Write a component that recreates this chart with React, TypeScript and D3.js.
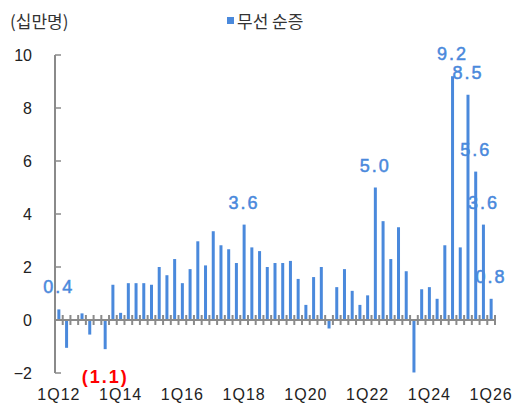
import React from "react";
import * as d3 from "d3";

const categories: string[] = [];
for (let y = 12; y <= 25; y++) for (let q = 1; q <= 4; q++) categories.push(`${q}Q${y}`);
categories.push("1Q26");

const values: number[] = [
  0.4, -1.05, 0, 0.25,
  -0.55, 0, -1.1, 1.33,
  0.27, 1.39, 1.39, 1.39,
  1.33, 2.0, 1.69, 2.3,
  1.39, 1.92, 2.97, 2.06,
  3.35, 2.82, 2.67, 2.15,
  3.6, 2.74, 2.6, 2.0,
  2.15, 2.15, 2.23, 1.55,
  0.57, 1.62, 2.0, -0.32,
  1.24, 1.92, 1.1, 0.57,
  0.93, 5.0, 3.73, 2.3,
  3.5, 1.84, -1.98, 1.16,
  1.24, 0.8, 2.82, 9.2,
  2.74, 8.5, 5.6, 3.6,
  0.8,
];

const xTickLabels = ["1Q12", "1Q14", "1Q16", "1Q18", "1Q20", "1Q22", "1Q24", "1Q26"];
const yTicks = [-2, 0, 2, 4, 6, 8, 10];
const yTickLabels = ["\u22122", "0", "2", "4", "6", "8", "10"];

const labelCats = ["1Q12", "3Q13", "1Q18", "2Q22", "4Q24", "2Q25", "3Q25", "4Q25", "1Q26"];
const labelTexts = ["0.4", "(1.1)", "3.6", "5.0", "9.2", "8.5", "5.6", "3.6", "0.8"];

const seriesName = "무선 순증";
const unitLabel = "(십만명)";

const BLUE = "#4a89dc";
const RED = "#ff0000";
const AXIS = "#8a8a8a";
const FONT = "'Liberation Sans', Arial, 'Noto Sans CJK KR', sans-serif";

export default function App() {
  const W = 516, H = 407;
  const x = d3.scaleBand<string>().domain(categories).range([55, 495]).paddingInner(0).paddingOuter(0);
  const y = d3.scaleLinear().domain([-2, 10]).range([373, 55]);
  const y0 = y(0);
  const step = x.step();
  const barW = 3;

  return (
    <svg width={W} height={H} style={{ position: "absolute", left: 0, top: 0, background: "#fff" }}>
      <text x={10} y={28} fontSize={17} fill="#333" fontFamily="'Noto Sans CJK KR', sans-serif">{unitLabel}</text>
      <rect x={227} y={17} width={7} height={7} fill={BLUE} />
      <text x={237} y={28} fontSize={17} fill="#333" fontFamily="'Noto Sans CJK KR', sans-serif">{seriesName}</text>

      {values.map((v, i) => {
        const cx = (x(categories[i]) as number) + step / 2;
        const top = Math.min(y(v), y0);
        const h = Math.abs(y(v) - y0);
        return <rect key={i} x={cx - barW / 2} y={top} width={barW} height={h} fill={BLUE} />;
      })}

      {/* y axis */}
      <line x1={55} x2={55} y1={y(10)} y2={y(-2)} stroke={AXIS} strokeWidth={2} />
      {yTicks.map((t, i) => (
        <g key={t}>
          <line x1={55} x2={61} y1={y(t)} y2={y(t)} stroke={AXIS} strokeWidth={1.5} />
          <text x={32} y={y(t) + 6} textAnchor="end" fontSize={16} fill="#222" fontFamily={FONT}>{yTickLabels[i]}</text>
        </g>
      ))}

      {/* zero line with cross ticks */}
      <line x1={55} x2={495} y1={y0} y2={y0} stroke={AXIS} strokeWidth={2} />
      {d3.range(categories.length + 1).map((i) => {
        const tx = 55 + i * step;
        return <line key={i} x1={tx} x2={tx} y1={y0 - 5} y2={y0 + 5} stroke={AXIS} strokeWidth={2} />;
      })}

      {xTickLabels.map((c) => (
        <text key={c} x={(x(c) as number) + step / 2} y={400} textAnchor="middle" fontSize={16} letterSpacing={1} fill="#222" fontFamily={FONT}>{c}</text>
      ))}

      {labelCats.map((c, i) => {
        const idx = categories.indexOf(c);
        const v = values[idx];
        const cx = (x(c) as number) + step / 2;
        const neg = v < 0;
        return (
          <text key={c} x={cx} y={neg ? y(v) + 34 : y(v) - 16} textAnchor="middle" fontSize={18} letterSpacing={2}
            fontWeight={neg ? "bold" : "normal"} fill={neg ? RED : BLUE} stroke={neg ? "none" : BLUE} strokeWidth={0.5}
            fontFamily={FONT}>{labelTexts[i]}</text>
        );
      })}
    </svg>
  );
}
